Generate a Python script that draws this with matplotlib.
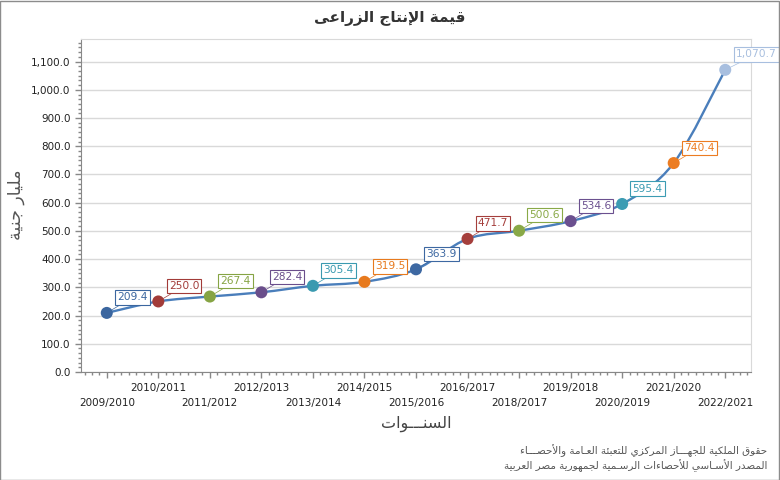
import numpy as np
import matplotlib
matplotlib.use("Agg")
import matplotlib.pyplot as plt
from matplotlib.path import Path
from matplotlib.patches import PathPatch, Rectangle
from matplotlib.ticker import FuncFormatter, MultipleLocator, AutoMinorLocator

years = ["2009/2010", "2010/2011", "2011/2012", "2012/2013", "2013/2014",
         "2014/2015", "2015/2016", "2016/2017", "2018/2017", "2019/2018",
         "2020/2019", "2021/2020", "2022/2021"]
values = [209.4, 250.0, 267.4, 282.4, 305.4, 319.5, 363.9,
          471.7, 500.6, 534.6, 595.4, 740.4, 1070.7]
point_colors = ["#3b669f", "#a23b38", "#86a444", "#6a4e8b", "#3a9ab0", "#e77a1e",
                "#3d68a2", "#a53f3c", "#89a947", "#6b508f", "#3c9cb3", "#ec7c22",
                "#a8bfdf"]

title = "قيمة الإنتاج الزراعى"
ylabel = "مليار جنية"
xlabel = "السنـــوات"
footer1 = "حقوق الملكية للجهـــاز المركزي للتعبئة العـامة والأحصـــاء"
footer2 = "المصدر الأسـاسي للأحصاءات الرسـمية لجمهورية مصر العربية"

# --- minimal arabic shaping (presentation forms + rtl order) ---
_seq = "ءآأؤإئابةتثجحخدذرزسشصضطظعغفقكلمنهوىي"
_cnt = [1, 2, 2, 2, 2, 4, 2, 4, 2, 4, 4, 4, 4, 4, 2, 2, 2, 2, 4, 4,
        4, 4, 4, 4, 4, 4, 4, 4, 4, 4, 4, 4, 4, 2, 2, 4]
FORMS = {}
_c = 0xFE80
for ch, n in zip(_seq, _cnt):
    FORMS[ch] = [chr(_c + k) for k in range(n)]
    _c += n
LAM_ALEF = {"آ": 0xFEF5, "أ": 0xFEF7, "إ": 0xFEF9, "ا": 0xFEFB}


def shape(text):
    toks = []
    i = 0
    while i < len(text):
        if text[i] == "ل" and i + 1 < len(text) and text[i + 1] in LAM_ALEF:
            toks.append(("LA", text[i + 1]))
            i += 2
        else:
            toks.append((text[i], None))
            i += 1

    def j_next(t):
        return t[0] == "ـ" or (t[0] in FORMS and len(FORMS[t[0]]) == 4)

    def j_prev(t):
        return t[0] in ("LA", "ـ") or (t[0] in FORMS and len(FORMS[t[0]]) >= 2)

    out = []
    for k, t in enumerate(toks):
        p = k > 0 and j_next(toks[k - 1]) and j_prev(t)
        n = k + 1 < len(toks) and j_next(t) and j_prev(toks[k + 1])
        if t[0] == "LA":
            out.append(chr(LAM_ALEF[t[1]] + (1 if p else 0)))
        elif t[0] in FORMS:
            f = FORMS[t[0]]
            if len(f) == 4:
                idx = 3 if (p and n) else 1 if p else 2 if n else 0
            elif len(f) == 2:
                idx = 1 if p else 0
            else:
                idx = 0
            out.append(f[idx])
        else:
            out.append(t[0])
    return "".join(reversed(out))


plt.rcParams["font.family"] = ["DejaVu Sans"]

fig = plt.figure(figsize=(7.8, 4.8), dpi=100)
ax = fig.add_axes([81 / 780, 1 - 372 / 480, 670 / 780, 333 / 480])

x = np.arange(len(values))
y = np.array(values)

# smoothed line (catmull-rom as cubic beziers)
verts = [(x[0], y[0])]
codes = [Path.MOVETO]
pts = np.column_stack([x, y])
for i in range(len(pts) - 1):
    p0 = pts[i - 1] if i > 0 else pts[i]
    p1, p2 = pts[i], pts[i + 1]
    p3 = pts[i + 2] if i + 2 < len(pts) else pts[i + 1]
    c1 = p1 + (p2 - p0) / 6
    c2 = p2 - (p3 - p1) / 6
    verts += [tuple(c1), tuple(c2), tuple(p2)]
    codes += [Path.CURVE4] * 3
ax.add_patch(PathPatch(Path(verts, codes), fill=False, ec="#4a7ebb", lw=1.7, zorder=3))

ax.scatter(x, y, s=75, c=point_colors, zorder=4, linewidths=0)

for xi, v, col in zip(x, values, point_colors):
    ax.annotate(f"{v:,.1f}", xy=(xi, v), xytext=(7.5, 7.5), textcoords="offset points",
                ha="left", va="bottom", fontsize=7.7, color=col, zorder=5,
                bbox=dict(boxstyle="square,pad=0.2", fc="white", ec=col, lw=0.8),
                arrowprops=dict(arrowstyle="-", color=col, lw=0.5, shrinkA=0, shrinkB=4))

ax.set_xlim(-0.5, len(values) - 0.5)
ax.set_ylim(0, 1180)
ax.set_yticks(np.arange(0, 1101, 100))
ax.yaxis.set_major_formatter(FuncFormatter(lambda v, p: f"{v:,.1f}"))
ax.yaxis.set_minor_locator(AutoMinorLocator(6))
ax.set_xticks(x, years)
ax.xaxis.set_minor_locator(MultipleLocator(1 / 7))
for i, t in enumerate(ax.xaxis.get_major_ticks()):
    t.set_pad(15 if i % 2 == 0 else 4)

ax.grid(axis="y", color="#d9d9d9", lw=1)
ax.set_axisbelow(True)
ax.tick_params(axis="both", which="major", labelsize=7.5, colors="#888888",
               labelcolor="#222222", length=4, width=1)
ax.tick_params(axis="both", which="minor", colors="#888888", length=2.5, width=1)
for s in ["left", "bottom"]:
    ax.spines[s].set_color("#888888")
for s in ["top", "right"]:
    ax.spines[s].set_color("#d9d9d9")

fig.text(390 / 780, 1 - 18 / 480, shape(title), ha="center", va="center",
         fontsize=11, fontweight="bold", color="#333333")
fig.text(16 / 780, 1 - 205 / 480, shape(ylabel), ha="center", va="center",
         rotation=90, fontsize=12.5, color="#555555")
fig.text(416 / 780, 1 - 424 / 480, shape(xlabel), ha="center", va="center",
         fontsize=11.5, color="#444444")
fig.text(767 / 780, 1 - 451 / 480, shape(footer1), ha="right", va="center",
         fontsize=7.5, color="#555555")
fig.text(767 / 780, 1 - 466 / 480, shape(footer2), ha="right", va="center",
         fontsize=7.5, color="#555555")

fig.patches.append(Rectangle((0.0006, 0.001), 0.9985, 0.9975, transform=fig.transFigure,
                             fill=False, ec="#8c8c8c", lw=1))

fig.savefig("out.png", dpi=100)
